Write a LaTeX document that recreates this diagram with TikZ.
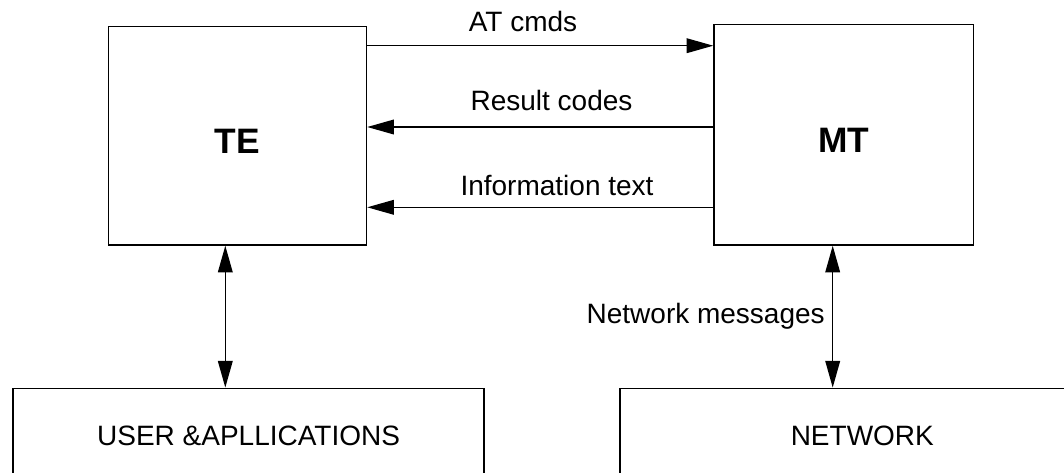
\documentclass[tikz,border=0pt]{standalone}
\usepackage{fontspec}
\setmainfont{Liberation Sans}
\usetikzlibrary{arrows.meta}
\begin{document}
\begin{tikzpicture}[x=0.75pt,y=-0.75pt,
  bigbox/.style={draw, line width=1.1pt, rectangle, inner sep=0pt,
    font=\fontsize{26.5}{30}\selectfont\bfseries, text height=27pt, text depth=0pt},
  lowbox/.style={draw, line width=1.1pt, rectangle, inner sep=0pt,
    minimum width=#1, minimum height=71.85pt,
    font=\fontsize{21}{25}\selectfont, text depth=0pt},
  lbl/.style={inner sep=0pt, font=\fontsize{21}{25}\selectfont},
  arr/.style={line width=1.1pt, -{Triangle[length=20pt,width=11pt]}},
  darr/.style={line width=1.1pt, {Triangle[length=20pt,width=11pt]}-{Triangle[length=20pt,width=11pt]}}
]
\useasboundingbox (0,0) rectangle (1064,472);
\begin{scope}
\clip (0,0) rectangle (1064,472);
\node[bigbox, minimum width=193.65pt, minimum height=163.7pt] (TE) at (237.4,135.85) {TE};
\node[bigbox, minimum width=194.6pt, minimum height=165.5pt] (MT) at (843.75,134.65) {MT};
\node[lowbox=353.4pt] (USER) at (248.6,436.2) {USER \&APLLICATIONS};
\node[lowbox=363.2pt] (NET) at (862.3,436.2) {NETWORK};

\coordinate (yA) at (0,45.7);
\coordinate (yR) at (0,127);
\coordinate (yI) at (0,207.3);
\coordinate (xL) at (225.3,0);
\coordinate (xR) at (832.7,0);

\draw[arr] (TE.east |- yA) -- (MT.west |- yA);
\draw[arr] (MT.west |- yR) -- (TE.east |- yR);
\draw[arr] (MT.west |- yI) -- (TE.east |- yI);
\draw[darr] (xL |- TE.south) -- (xL |- USER.north);
\draw[darr] (xR |- MT.south) -- (xR |- NET.north);

\node[lbl, anchor=base] (lA) at (523,31.5) {AT cmds};
\node[lbl, anchor=base] (lR) at (551.5,110.5) {Result codes};
\node[lbl, anchor=base] (lI) at (557,195) {Information text};
\node[lbl, anchor=base east] (lN) at (825,323) {Network messages};
\end{scope}
\end{tikzpicture}
\end{document}
